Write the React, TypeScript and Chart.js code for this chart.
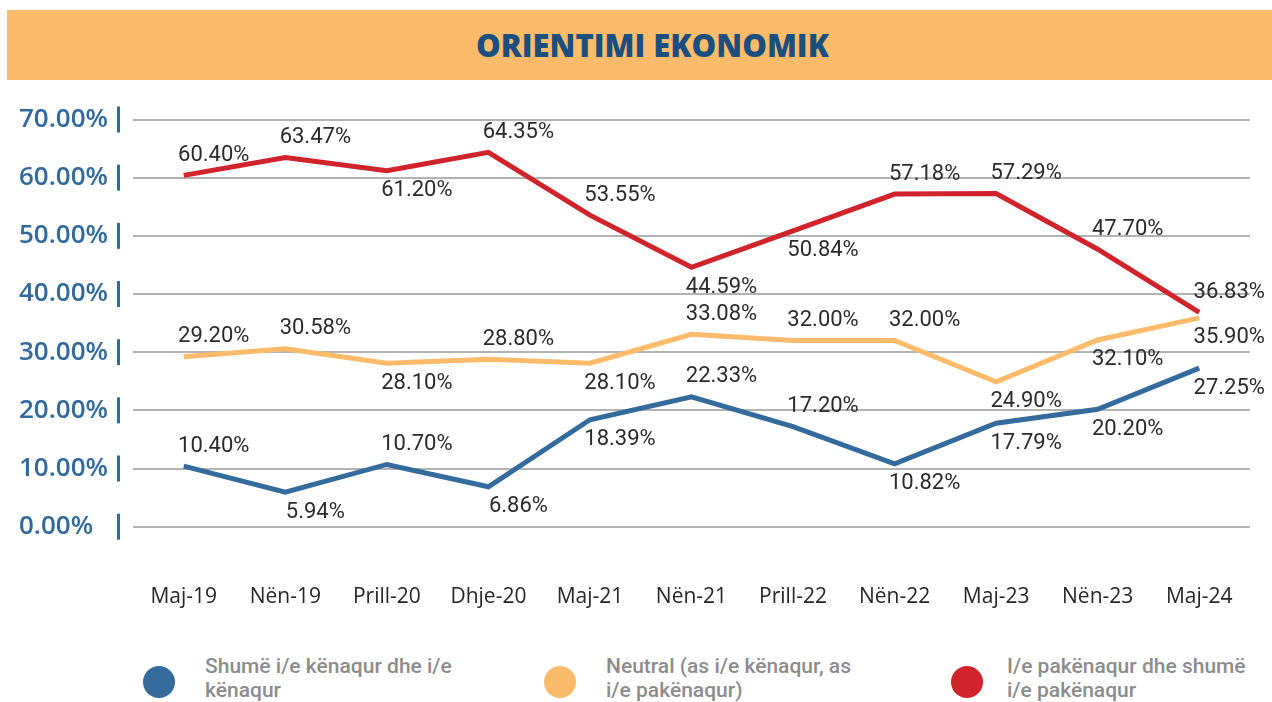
import React, { useEffect, useRef } from 'react';
import { Chart, registerables } from 'chart.js';

Chart.register(...registerables);

const title = 'ORIENTIMI EKONOMIK';
const categories = ['Maj-19', 'Nën-19', 'Prill-20', 'Dhje-20', 'Maj-21', 'Nën-21', 'Prill-22', 'Nën-22', 'Maj-23', 'Nën-23', 'Maj-24'];
const satisfied = [10.4, 5.94, 10.7, 6.86, 18.39, 22.33, 17.2, 10.82, 17.79, 20.2, 27.25];
const neutral = [29.2, 30.58, 28.1, 28.8, 28.1, 33.08, 32.0, 32.0, 24.9, 32.1, 35.9];
const dissatisfied = [60.4, 63.47, 61.2, 64.35, 53.55, 44.59, 50.84, 57.18, 57.29, 47.7, 36.83];
const seriesNames = [
  'Shumë i/e kënaqur dhe i/e kënaqur',
  'Neutral (as i/e kënaqur, as i/e pakënaqur)',
  'I/e pakënaqur dhe shumë i/e pakënaqur',
];
const seriesColors = ['#346A9C', '#FCBA6B', '#D0232B'];
const yMin = 0;
const yMax = 70;
const yStep = 10;

// label placement relative to point: a = above, b = below
const placeSatisfied = ['a', 'b', 'a', 'b', 'b', 'a', 'a', 'b', 'b', 'b', 'b'];
const placeNeutral = ['a', 'a', 'b', 'a', 'b', 'a', 'a', 'a', 'b', 'b', 'b'];
const placeDissatisfied = ['a', 'a', 'b', 'a', 'a', 'b', 'b', 'a', 'a', 'a', 'a'];

const fmt = (v: number) => v.toFixed(2) + '%';

const valueLabels = {
  id: 'valueLabels',
  afterDatasetsDraw(chart: any) {
    const ctx = chart.ctx;
    ctx.save();
    ctx.font = '22px Roboto';
    ctx.fillStyle = '#2b2b2b';
    ctx.textBaseline = 'middle';
    ctx.textAlign = 'center';
    chart.data.datasets.forEach((ds: any, di: number) => {
      const meta = chart.getDatasetMeta(di);
      meta.data.forEach((pt: any, i: number) => {
        const p = ds.placement[i];
        const x = pt.x + 30;
        const y = p === 'a' ? pt.y - 20 : pt.y + 20;
        ctx.fillText(fmt(ds.data[i]), x, y);
      });
    });
    ctx.restore();
  },
};

const axisBars = {
  id: 'axisBars',
  afterDraw(chart: any) {
    const ctx = chart.ctx;
    const ys = chart.scales.y;
    ctx.save();
    ctx.fillStyle = '#336A9E';
    ys.ticks.forEach((t: any) => {
      const py = ys.getPixelForValue(t.value);
      ctx.fillRect(ys.right - 16, py - 13, 3, 26);
    });
    ctx.restore();
  },
};

function LineChart() {
  const ref = useRef<HTMLCanvasElement | null>(null);
  useEffect(() => {
    if (!ref.current) return;
    const chart = new Chart(ref.current, {
      type: 'line',
      data: {
        labels: categories,
        datasets: [
          { label: seriesNames[2], data: dissatisfied, placement: placeDissatisfied, borderColor: seriesColors[2], backgroundColor: seriesColors[2], borderWidth: 5, pointRadius: 0, tension: 0 } as any,
          { label: seriesNames[1], data: neutral, placement: placeNeutral, borderColor: seriesColors[1], backgroundColor: seriesColors[1], borderWidth: 5, pointRadius: 0, tension: 0 } as any,
          { label: seriesNames[0], data: satisfied, placement: placeSatisfied, borderColor: seriesColors[0], backgroundColor: seriesColors[0], borderWidth: 5, pointRadius: 0, tension: 0 } as any,
        ],
      },
      options: {
        animation: false,
        responsive: false,
        maintainAspectRatio: false,
        layout: { padding: { top: 29.5, left: 19, right: 22, bottom: 0 } },
        plugins: { legend: { display: false }, tooltip: { enabled: false } },
        scales: {
          x: {
            offset: true,
            grid: { display: false },
            border: { display: false },
            ticks: {
              autoSkip: false,
              maxRotation: 0,
              padding: 50,
              color: '#262626',
              font: { family: 'Open Sans', size: 21 },
            },
            afterFit: (s: any) => { s.height = 103.3; s.paddingLeft = 0; s.paddingRight = 0; },
          },
          y: {
            min: yMin,
            max: yMax,
            grid: { color: '#b3b3b3', lineWidth: 2, drawTicks: false },
            border: { display: false },
            ticks: {
              stepSize: yStep,
              crossAlign: 'far',
              color: '#336A9E',
              font: { family: 'Open Sans', size: 26, weight: '600' },
              callback: (v: any) => Number(v).toFixed(2) + '%',
            },
            afterFit: (s: any) => { s.width = 114; },
          },
        },
      },
      plugins: [valueLabels, axisBars],
    });
    return () => chart.destroy();
  }, []);
  return <canvas ref={ref} width={1272} height={540} style={{ position: 'absolute', left: 0, top: 90, width: 1272, height: 540 }} />;
}

const legendX = [159, 560, 967];
const legendTextX = [205, 606, 1007];

export default function App() {
  return (
    <div style={{ position: 'fixed', left: 0, top: 0, width: 1272, height: 702, background: '#fff', overflow: 'hidden' }}>
      <div
        style={{
          position: 'absolute', left: 7, top: 10, width: 1265, height: 70, background: '#FBBB6B',
          boxSizing: 'border-box', paddingLeft: 26, textAlign: 'center', lineHeight: '70px',
          fontFamily: 'Open Sans', fontWeight: 800, fontSize: 31, color: '#1B4F7F',
        }}
      >
        {title}
      </div>
      <LineChart />
      {[0, 1, 2].map((i) => (
        <React.Fragment key={i}>
          <div style={{ position: 'absolute', left: legendX[i] - 16, top: 666, width: 32, height: 32, borderRadius: '50%', background: seriesColors[i] }} />
          <div
            style={{
              position: 'absolute', left: legendTextX[i], top: 654, width: 255,
              fontFamily: 'Roboto', fontWeight: 500, fontSize: 21, lineHeight: '24px', color: '#8c8c8c',
            }}
          >
            {seriesNames[i]}
          </div>
        </React.Fragment>
      ))}
    </div>
  );
}
